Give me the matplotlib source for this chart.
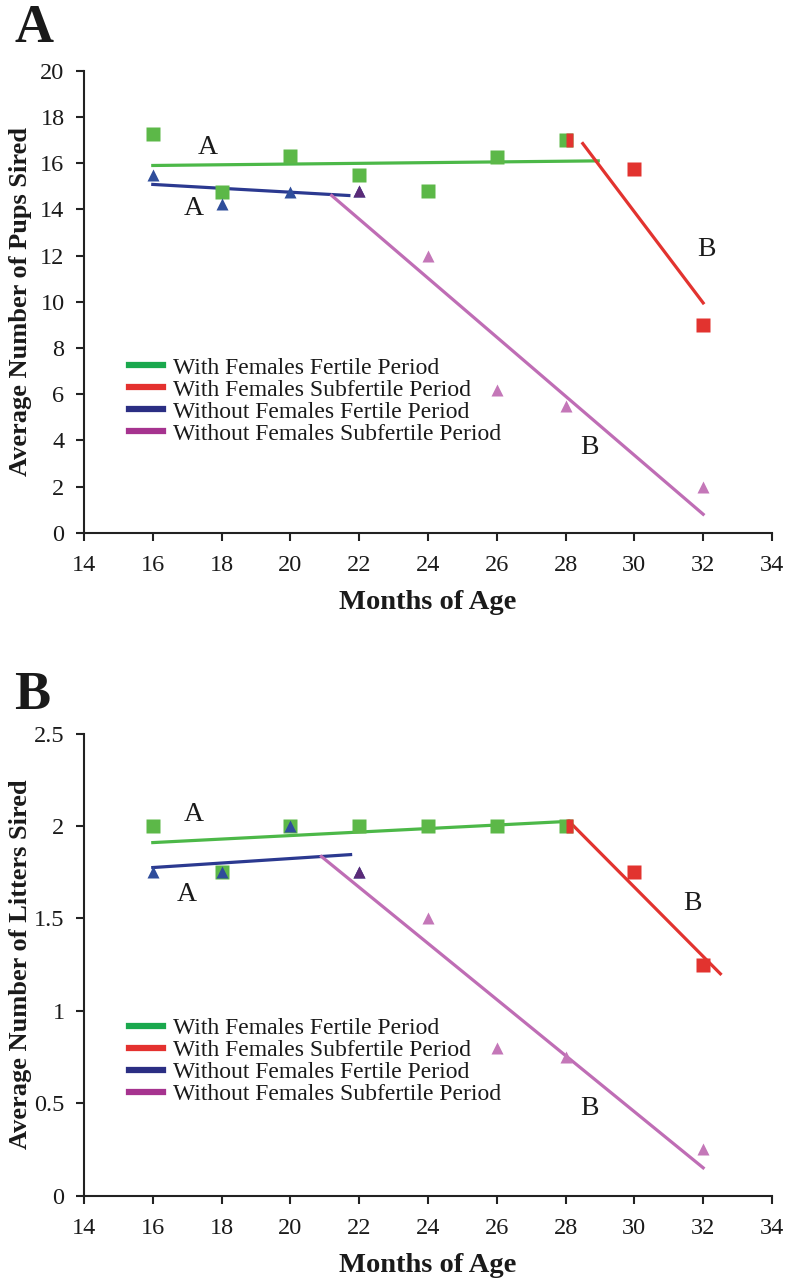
import matplotlib
matplotlib.use("Agg")
import matplotlib.pyplot as plt
from matplotlib.lines import Line2D
from matplotlib.ticker import FuncFormatter

plt.rcParams['font.family'] = ['Liberation Serif', 'DejaVu Serif']

# ---------------- data ----------------
months = [16, 18, 20, 22, 24, 26, 28, 30, 32]

# Panel A: Average number of pups sired
a_with_fert_x = [16, 18, 20, 22, 24, 26, 28]
a_with_fert_y = [17.25, 14.75, 16.3, 15.5, 14.8, 16.25, 17.0]
a_with_sub_x = [28, 30, 32]
a_with_sub_y = [17.0, 15.75, 9.0]
a_wo_fert_x = [16, 18, 20, 22]
a_wo_fert_y = [15.5, 14.25, 14.75, 14.8]
a_wo_sub_x = [22, 24, 26, 28, 32]
a_wo_sub_y = [14.8, 12.0, 6.2, 5.5, 2.0]
# trend lines (start, end)
a_fit_with_fert_x, a_fit_with_fert_y = [16, 28.95], [15.9, 16.1]
a_fit_with_sub_x, a_fit_with_sub_y = [28.5, 32], [16.85, 9.95]
a_fit_wo_fert_x, a_fit_wo_fert_y = [16, 21.7], [15.08, 14.6]
a_fit_wo_sub_x, a_fit_wo_sub_y = [21.2, 32], [14.6, 0.8]

# Panel B: Average number of litters sired
b_with_fert_x = [16, 18, 20, 22, 24, 26, 28]
b_with_fert_y = [2.0, 1.75, 2.0, 2.0, 2.0, 2.0, 2.0]
b_with_sub_x = [28, 30, 32]
b_with_sub_y = [2.0, 1.75, 1.25]
b_wo_fert_x = [16, 18, 20, 22]
b_wo_fert_y = [1.75, 1.75, 2.0, 1.75]
b_wo_sub_x = [22, 24, 26, 28, 32]
b_wo_sub_y = [1.75, 1.5, 0.8, 0.75, 0.25]
b_fit_with_fert_x, b_fit_with_fert_y = [16, 28.1], [1.91, 2.025]
b_fit_with_sub_x, b_fit_with_sub_y = [28.1, 32.5], [2.025, 1.2]
b_fit_wo_fert_x, b_fit_wo_fert_y = [16, 21.75], [1.775, 1.845]
b_fit_wo_sub_x, b_fit_wo_sub_y = [20.9, 32], [1.835, 0.15]

legend_labels = ["With Females Fertile Period", "With Females Subfertile Period",
                 "Without Females Fertile Period", "Without Females Subfertile Period"]

# ---------------- style ----------------
C_GREEN_M = '#5cb848'
C_GREEN_L = '#4cb848'
C_RED = '#e2332f'
C_BLUE_M = '#2f4d9b'
C_BLUE_L = '#2b3990'
C_PURP_M = '#c477b8'
C_PURP_L = '#bf6db5'
C_DARK_OVERLAP = '#5b2a78'
LEG_COLORS = ['#1aa84d', '#e4312f', '#2b2e83', '#a6338f']
TXT = '#1a1a1a'

fig = plt.figure(figsize=(7.85, 12.8), dpi=100)
axA = fig.add_axes([0.107, 0.5838, 0.8764, 0.3609])
axB = fig.add_axes([0.107, 0.0660, 0.8764, 0.3609])


def draw(ax, wf, ws, wof, wos, fwf, fws, fwof, fwos, ylim, yticks, ylabel,
         letters, leg_y):
    lw = 2.3
    ax.plot(fwf[0], fwf[1], color=C_GREEN_L, lw=lw, zorder=2)
    ax.plot(fws[0], fws[1], color=C_RED, lw=lw, zorder=2)
    ax.plot(fwof[0], fwof[1], color=C_BLUE_L, lw=lw, zorder=2)
    ax.plot(fwos[0], fwos[1], color=C_PURP_L, lw=lw, zorder=2)

    ax.plot(wf[0], wf[1], 's', color=C_GREEN_M, ms=9.5, mec='none', zorder=3)
    ax.plot(ws[0][:1], ws[1][:1], 's', color=C_RED, ms=9.5, mec='none',
            fillstyle='right', markerfacecoloralt='none', zorder=4)
    ax.plot(ws[0][1:], ws[1][1:], 's', color=C_RED, ms=9.5, mec='none', zorder=4)
    ax.plot(wof[0], wof[1], '^', color=C_BLUE_M, ms=9, mec='none', zorder=4)
    ax.plot(wos[0][:1], wos[1][:1], '^', color=C_DARK_OVERLAP, ms=9, mec='none',
            zorder=5)
    ax.plot(wos[0][1:], wos[1][1:], '^', color=C_PURP_M, ms=9, mec='none', zorder=5)

    ax.set_xlim(14, 34)
    ax.set_ylim(*ylim)
    ax.set_xticks(range(14, 35, 2))
    ax.set_yticks(yticks)
    ax.yaxis.set_major_formatter(FuncFormatter(lambda v, p: f"{v:g}"))
    for s in ['top', 'right']:
        ax.spines[s].set_visible(False)
    for s in ['left', 'bottom']:
        ax.spines[s].set_linewidth(1.5)
        ax.spines[s].set_color('#222222')
    ax.tick_params(direction='out', length=6, width=1.5, color='#222222',
                   labelsize=17.5, labelcolor=TXT, pad=8)
    ax.tick_params(axis='x', pad=10)
    ax.set_xlabel('Months of Age', fontsize=20.5, fontweight='bold', color=TXT,
                  labelpad=10)
    ax.set_ylabel(ylabel, fontsize=19, fontweight='bold', color=TXT, va='center')
    ax.yaxis.set_label_coords(-0.092, 0.5)

    for (tx, ty, t) in letters:
        ax.text(tx, ty, t, fontsize=20, color=TXT, ha='center', va='center')

    handles = [Line2D([0], [0], color=c, lw=4.5) for c in LEG_COLORS]
    ax.legend(handles, legend_labels, loc='upper left',
              bbox_to_anchor=(0.0654, leg_y), frameon=False, fontsize=17,
              handlelength=1.45, handletextpad=0.4, labelspacing=0.02,
              borderpad=0, borderaxespad=0, labelcolor=TXT)


draw(axA,
     (a_with_fert_x, a_with_fert_y), (a_with_sub_x, a_with_sub_y),
     (a_wo_fert_x, a_wo_fert_y), (a_wo_sub_x, a_wo_sub_y),
     (a_fit_with_fert_x, a_fit_with_fert_y), (a_fit_with_sub_x, a_fit_with_sub_y),
     (a_fit_wo_fert_x, a_fit_wo_fert_y), (a_fit_wo_sub_x, a_fit_wo_sub_y),
     (0, 20), range(0, 21, 2), 'Average Number of Pups Sired',
     [(17.6, 16.7, 'A'), (17.2, 14.05, 'A'), (32.1, 12.25, 'B'), (28.7, 3.7, 'B')],
     0.38)

draw(axB,
     (b_with_fert_x, b_with_fert_y), (b_with_sub_x, b_with_sub_y),
     (b_wo_fert_x, b_wo_fert_y), (b_wo_sub_x, b_wo_sub_y),
     (b_fit_with_fert_x, b_fit_with_fert_y), (b_fit_with_sub_x, b_fit_with_sub_y),
     (b_fit_wo_fert_x, b_fit_wo_fert_y), (b_fit_wo_sub_x, b_fit_wo_sub_y),
     (0, 2.5), [0, 0.5, 1, 1.5, 2, 2.5], 'Average Number of Litters Sired',
     [(17.2, 2.06, 'A'), (17.0, 1.63, 'A'), (31.7, 1.58, 'B'), (28.7, 0.47, 'B')],
     0.385)

fig.text(0.018, 0.997, 'A', fontsize=39, fontweight='bold', color=TXT,
         ha='left', va='top')
fig.text(0.018, 0.476, 'B', fontsize=39, fontweight='bold', color=TXT,
         ha='left', va='top')

fig.savefig('out.png', dpi=100)
